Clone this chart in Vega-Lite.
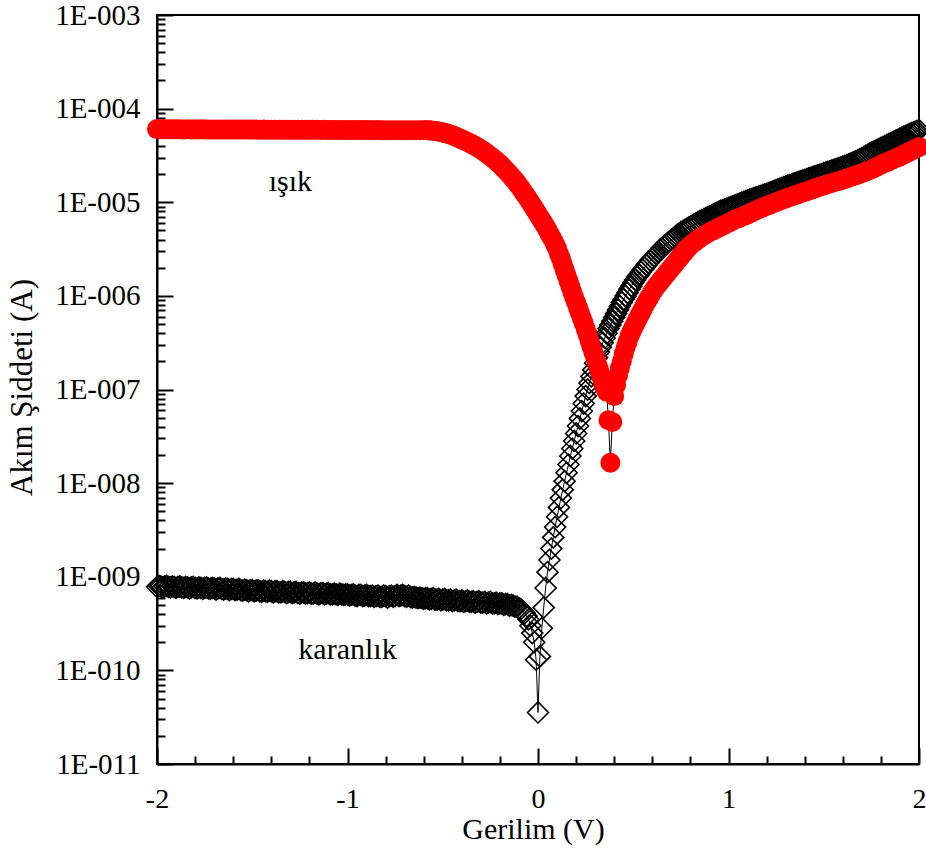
{
  "$schema": "https://vega.github.io/schema/vega-lite/v6.json",
  "width": 762,
  "height": 749,
  "autosize": {"type": "none"},
  "padding": {"left": 157, "top": 15, "right": 7, "bottom": 85},
  "background": "white",
  "config": {
    "font": "Liberation Serif",
    "view": {"stroke": "black", "strokeWidth": 2}
  },
  "datasets": {
    "dark": [
      {"V":-2.00,"I":7.8e-10},{"V":-1.99,"I":8.0e-10},{"V":-1.98,"I":7.9e-10},{"V":-1.97,"I":7.7e-10},{"V":-1.96,"I":7.9e-10},{"V":-1.95,"I":8.0e-10},{"V":-1.94,"I":7.8e-10},{"V":-1.93,"I":7.7e-10},{"V":-1.92,"I":7.9e-10},{"V":-1.91,"I":7.8e-10},
      {"V":-1.90,"I":7.6e-10},{"V":-1.89,"I":7.8e-10},{"V":-1.88,"I":7.9e-10},{"V":-1.87,"I":7.7e-10},{"V":-1.86,"I":7.6e-10},{"V":-1.85,"I":7.8e-10},{"V":-1.84,"I":7.7e-10},{"V":-1.83,"I":7.5e-10},{"V":-1.82,"I":7.7e-10},{"V":-1.81,"I":7.8e-10},
      {"V":-1.80,"I":7.6e-10},{"V":-1.79,"I":7.5e-10},{"V":-1.78,"I":7.7e-10},{"V":-1.77,"I":7.6e-10},{"V":-1.76,"I":7.4e-10},{"V":-1.75,"I":7.6e-10},{"V":-1.74,"I":7.7e-10},{"V":-1.73,"I":7.5e-10},{"V":-1.72,"I":7.4e-10},{"V":-1.71,"I":7.6e-10},
      {"V":-1.70,"I":7.5e-10},{"V":-1.69,"I":7.3e-10},{"V":-1.68,"I":7.5e-10},{"V":-1.67,"I":7.6e-10},{"V":-1.66,"I":7.4e-10},{"V":-1.65,"I":7.3e-10},{"V":-1.64,"I":7.5e-10},{"V":-1.63,"I":7.4e-10},{"V":-1.62,"I":7.2e-10},{"V":-1.61,"I":7.4e-10},
      {"V":-1.60,"I":7.4e-10},{"V":-1.59,"I":7.2e-10},{"V":-1.58,"I":7.3e-10},{"V":-1.57,"I":7.4e-10},{"V":-1.56,"I":7.2e-10},{"V":-1.55,"I":7.1e-10},{"V":-1.54,"I":7.3e-10},{"V":-1.53,"I":7.2e-10},{"V":-1.52,"I":7.0e-10},{"V":-1.51,"I":7.2e-10},
      {"V":-1.50,"I":7.2e-10},{"V":-1.49,"I":7.0e-10},{"V":-1.48,"I":7.1e-10},{"V":-1.47,"I":7.2e-10},{"V":-1.46,"I":7.0e-10},{"V":-1.45,"I":6.9e-10},{"V":-1.44,"I":7.1e-10},{"V":-1.43,"I":7.0e-10},{"V":-1.42,"I":6.9e-10},{"V":-1.41,"I":7.1e-10},
      {"V":-1.40,"I":7.0e-10},{"V":-1.39,"I":6.8e-10},{"V":-1.38,"I":7.0e-10},{"V":-1.37,"I":7.0e-10},{"V":-1.36,"I":6.8e-10},{"V":-1.35,"I":6.8e-10},{"V":-1.34,"I":7.0e-10},{"V":-1.33,"I":6.9e-10},{"V":-1.32,"I":6.7e-10},{"V":-1.31,"I":6.9e-10},
      {"V":-1.30,"I":6.9e-10},{"V":-1.29,"I":6.7e-10},{"V":-1.28,"I":6.8e-10},{"V":-1.27,"I":6.9e-10},{"V":-1.26,"I":6.7e-10},{"V":-1.25,"I":6.6e-10},{"V":-1.24,"I":6.8e-10},{"V":-1.23,"I":6.8e-10},{"V":-1.22,"I":6.6e-10},{"V":-1.21,"I":6.7e-10},
      {"V":-1.20,"I":6.8e-10},{"V":-1.19,"I":6.6e-10},{"V":-1.18,"I":6.6e-10},{"V":-1.17,"I":6.8e-10},{"V":-1.16,"I":6.6e-10},{"V":-1.15,"I":6.5e-10},{"V":-1.14,"I":6.7e-10},{"V":-1.13,"I":6.7e-10},{"V":-1.12,"I":6.5e-10},{"V":-1.11,"I":6.6e-10},
      {"V":-1.10,"I":6.7e-10},{"V":-1.09,"I":6.5e-10},{"V":-1.08,"I":6.5e-10},{"V":-1.07,"I":6.6e-10},{"V":-1.06,"I":6.5e-10},{"V":-1.05,"I":6.4e-10},{"V":-1.04,"I":6.6e-10},{"V":-1.03,"I":6.5e-10},{"V":-1.02,"I":6.4e-10},{"V":-1.01,"I":6.5e-10},
      {"V":-1.00,"I":6.5e-10},{"V":-0.99,"I":6.3e-10},{"V":-0.98,"I":6.4e-10},{"V":-0.97,"I":6.5e-10},{"V":-0.96,"I":6.3e-10},{"V":-0.95,"I":6.2e-10},{"V":-0.94,"I":6.4e-10},{"V":-0.93,"I":6.4e-10},{"V":-0.92,"I":6.2e-10},{"V":-0.91,"I":6.3e-10},
      {"V":-0.90,"I":6.4e-10},{"V":-0.89,"I":6.2e-10},{"V":-0.88,"I":6.2e-10},{"V":-0.87,"I":6.3e-10},{"V":-0.86,"I":6.1e-10},{"V":-0.85,"I":6.2e-10},{"V":-0.84,"I":6.3e-10},{"V":-0.83,"I":6.1e-10},{"V":-0.82,"I":6.1e-10},{"V":-0.81,"I":6.3e-10},
      {"V":-0.80,"I":6.2e-10},{"V":-0.79,"I":6.0e-10},{"V":-0.78,"I":6.2e-10},{"V":-0.77,"I":6.3e-10},{"V":-0.76,"I":6.1e-10},{"V":-0.75,"I":6.2e-10},{"V":-0.74,"I":6.4e-10},{"V":-0.73,"I":6.2e-10},{"V":-0.72,"I":6.3e-10},{"V":-0.71,"I":6.4e-10},
      {"V":-0.70,"I":6.2e-10},{"V":-0.69,"I":6.1e-10},{"V":-0.68,"I":6.3e-10},{"V":-0.67,"I":6.1e-10},{"V":-0.66,"I":6.0e-10},{"V":-0.65,"I":6.1e-10},{"V":-0.64,"I":6.0e-10},{"V":-0.63,"I":5.9e-10},{"V":-0.62,"I":6.0e-10},{"V":-0.61,"I":5.9e-10},
      {"V":-0.60,"I":5.8e-10},{"V":-0.59,"I":5.9e-10},{"V":-0.58,"I":5.9e-10},{"V":-0.57,"I":5.7e-10},{"V":-0.56,"I":5.8e-10},{"V":-0.55,"I":5.9e-10},{"V":-0.54,"I":5.7e-10},{"V":-0.53,"I":5.7e-10},{"V":-0.52,"I":5.8e-10},{"V":-0.51,"I":5.6e-10},
      {"V":-0.50,"I":5.7e-10},{"V":-0.49,"I":5.8e-10},{"V":-0.48,"I":5.6e-10},{"V":-0.47,"I":5.6e-10},{"V":-0.46,"I":5.7e-10},{"V":-0.45,"I":5.5e-10},{"V":-0.44,"I":5.6e-10},{"V":-0.43,"I":5.7e-10},{"V":-0.42,"I":5.5e-10},{"V":-0.41,"I":5.5e-10},
      {"V":-0.40,"I":5.6e-10},{"V":-0.39,"I":5.4e-10},{"V":-0.38,"I":5.5e-10},{"V":-0.37,"I":5.6e-10},{"V":-0.36,"I":5.4e-10},{"V":-0.35,"I":5.4e-10},{"V":-0.34,"I":5.5e-10},{"V":-0.33,"I":5.3e-10},{"V":-0.32,"I":5.4e-10},{"V":-0.31,"I":5.5e-10},
      {"V":-0.30,"I":5.3e-10},{"V":-0.29,"I":5.3e-10},{"V":-0.28,"I":5.4e-10},{"V":-0.27,"I":5.2e-10},{"V":-0.26,"I":5.3e-10},{"V":-0.25,"I":5.4e-10},{"V":-0.24,"I":5.2e-10},{"V":-0.23,"I":5.2e-10},{"V":-0.22,"I":5.3e-10},{"V":-0.21,"I":5.1e-10},
      {"V":-0.20,"I":5.2e-10},{"V":-0.19,"I":5.2e-10},{"V":-0.18,"I":5.0e-10},{"V":-0.17,"I":5.1e-10},{"V":-0.16,"I":5.1e-10},{"V":-0.15,"I":4.9e-10},{"V":-0.14,"I":5.0e-10},{"V":-0.13,"I":4.9e-10},{"V":-0.12,"I":4.8e-10},{"V":-0.11,"I":4.8e-10},
      {"V":-0.10,"I":4.6e-10},{"V":-0.09,"I":4.5e-10},{"V":-0.08,"I":4.3e-10},{"V":-0.07,"I":4.1e-10},{"V":-0.06,"I":3.8e-10},{"V":-0.05,"I":3.5e-10},{"V":-0.04,"I":3.0e-10},{"V":-0.03,"I":2.5e-10},{"V":-0.02,"I":2.0e-10},{"V":-0.01,"I":1.3e-10},
      {"V":0.00,"I":3.55e-11},
      {"V":0.01,"I":1.41e-10},{"V":0.02,"I":2.82e-10},{"V":0.03,"I":4.68e-10},{"V":0.04,"I":7.59e-10},{"V":0.05,"I":1.12e-9},{"V":0.06,"I":1.51e-9},{"V":0.07,"I":2.0e-9},{"V":0.08,"I":2.63e-9},{"V":0.09,"I":3.39e-9},{"V":0.10,"I":4.37e-9},
      {"V":0.11,"I":5.5e-9},{"V":0.12,"I":6.92e-9},{"V":0.13,"I":8.51e-9},{"V":0.14,"I":1.05e-8},{"V":0.15,"I":1.29e-8},{"V":0.16,"I":1.58e-8},{"V":0.17,"I":1.95e-8},{"V":0.18,"I":2.34e-8},{"V":0.19,"I":2.82e-8},{"V":0.20,"I":3.39e-8},
      {"V":0.21,"I":4.07e-8},{"V":0.22,"I":4.9e-8},{"V":0.23,"I":5.89e-8},{"V":0.24,"I":7.08e-8},{"V":0.25,"I":8.51e-8},{"V":0.26,"I":1.0e-7},{"V":0.27,"I":1.17e-7},{"V":0.28,"I":1.38e-7},{"V":0.29,"I":1.62e-7},{"V":0.30,"I":1.91e-7},
      {"V":0.31,"I":2.19e-7},{"V":0.32,"I":2.51e-7},{"V":0.33,"I":2.82e-7},{"V":0.34,"I":3.16e-7},{"V":0.35,"I":3.55e-7},{"V":0.36,"I":3.98e-7},{"V":0.37,"I":4.47e-7},{"V":0.38,"I":4.9e-7},{"V":0.39,"I":5.37e-7},{"V":0.40,"I":5.89e-7},
      {"V":0.41,"I":6.46e-7},{"V":0.42,"I":7.08e-7},{"V":0.43,"I":7.76e-7},{"V":0.44,"I":8.51e-7},{"V":0.45,"I":9.23e-7},{"V":0.46,"I":1.0e-6},{"V":0.47,"I":1.08e-6},{"V":0.48,"I":1.18e-6},{"V":0.49,"I":1.27e-6},{"V":0.50,"I":1.38e-6},
      {"V":0.51,"I":1.48e-6},{"V":0.52,"I":1.59e-6},{"V":0.53,"I":1.68e-6},{"V":0.54,"I":1.80e-6},{"V":0.55,"I":1.91e-6},{"V":0.56,"I":2.02e-6},{"V":0.57,"I":2.14e-6},{"V":0.58,"I":2.27e-6},{"V":0.59,"I":2.40e-6},{"V":0.60,"I":2.51e-6},
      {"V":0.61,"I":2.63e-6},{"V":0.62,"I":2.79e-6},{"V":0.63,"I":2.92e-6},{"V":0.64,"I":3.09e-6},{"V":0.65,"I":3.24e-6},{"V":0.66,"I":3.39e-6},{"V":0.67,"I":3.51e-6},{"V":0.68,"I":3.67e-6},{"V":0.69,"I":3.80e-6},{"V":0.70,"I":3.98e-6},
      {"V":0.71,"I":4.12e-6},{"V":0.72,"I":4.27e-6},{"V":0.73,"I":4.47e-6},{"V":0.74,"I":4.62e-6},{"V":0.75,"I":4.79e-6},{"V":0.76,"I":4.90e-6},{"V":0.77,"I":5.07e-6},{"V":0.78,"I":5.19e-6},{"V":0.79,"I":5.37e-6},{"V":0.80,"I":5.50e-6},
      {"V":0.81,"I":5.62e-6},{"V":0.82,"I":5.82e-6},{"V":0.83,"I":5.96e-6},{"V":0.84,"I":6.17e-6},{"V":0.85,"I":6.31e-6},{"V":0.86,"I":6.46e-6},{"V":0.87,"I":6.61e-6},{"V":0.88,"I":6.76e-6},{"V":0.89,"I":6.92e-6},{"V":0.90,"I":7.08e-6},
      {"V":0.91,"I":7.24e-6},{"V":0.92,"I":7.41e-6},{"V":0.93,"I":7.59e-6},{"V":0.94,"I":7.76e-6},{"V":0.95,"I":7.94e-6},{"V":0.96,"I":8.13e-6},{"V":0.97,"I":8.22e-6},{"V":0.98,"I":8.41e-6},{"V":0.99,"I":8.51e-6},{"V":1.00,"I":8.71e-6},
      {"V":1.01,"I":8.87e-6},{"V":1.02,"I":9.04e-6},{"V":1.03,"I":9.20e-6},{"V":1.04,"I":9.38e-6},{"V":1.05,"I":9.55e-6},{"V":1.06,"I":9.73e-6},{"V":1.07,"I":9.91e-6},{"V":1.08,"I":1.009e-5},{"V":1.09,"I":1.028e-5},{"V":1.10,"I":1.047e-5},
      {"V":1.11,"I":1.064e-5},{"V":1.12,"I":1.081e-5},{"V":1.13,"I":1.099e-5},{"V":1.14,"I":1.117e-5},{"V":1.15,"I":1.135e-5},{"V":1.16,"I":1.153e-5},{"V":1.17,"I":1.172e-5},{"V":1.18,"I":1.191e-5},{"V":1.19,"I":1.211e-5},{"V":1.20,"I":1.23e-5},
      {"V":1.21,"I":1.253e-5},{"V":1.22,"I":1.276e-5},{"V":1.23,"I":1.30e-5},{"V":1.24,"I":1.324e-5},{"V":1.25,"I":1.349e-5},{"V":1.26,"I":1.374e-5},{"V":1.27,"I":1.40e-5},{"V":1.28,"I":1.426e-5},{"V":1.29,"I":1.452e-5},{"V":1.30,"I":1.479e-5},
      {"V":1.31,"I":1.503e-5},{"V":1.32,"I":1.528e-5},{"V":1.33,"I":1.552e-5},{"V":1.34,"I":1.578e-5},{"V":1.35,"I":1.603e-5},{"V":1.36,"I":1.629e-5},{"V":1.37,"I":1.656e-5},{"V":1.38,"I":1.683e-5},{"V":1.39,"I":1.71e-5},{"V":1.40,"I":1.738e-5},
      {"V":1.41,"I":1.766e-5},{"V":1.42,"I":1.795e-5},{"V":1.43,"I":1.824e-5},{"V":1.44,"I":1.854e-5},{"V":1.45,"I":1.884e-5},{"V":1.46,"I":1.914e-5},{"V":1.47,"I":1.945e-5},{"V":1.48,"I":1.977e-5},{"V":1.49,"I":2.009e-5},{"V":1.50,"I":2.042e-5},
      {"V":1.51,"I":2.075e-5},{"V":1.52,"I":2.109e-5},{"V":1.53,"I":2.143e-5},{"V":1.54,"I":2.178e-5},{"V":1.55,"I":2.213e-5},{"V":1.56,"I":2.249e-5},{"V":1.57,"I":2.286e-5},{"V":1.58,"I":2.323e-5},{"V":1.59,"I":2.36e-5},{"V":1.60,"I":2.399e-5},
      {"V":1.61,"I":2.443e-5},{"V":1.62,"I":2.489e-5},{"V":1.63,"I":2.535e-5},{"V":1.64,"I":2.582e-5},{"V":1.65,"I":2.63e-5},{"V":1.66,"I":2.692e-5},{"V":1.67,"I":2.754e-5},{"V":1.68,"I":2.818e-5},{"V":1.69,"I":2.884e-5},{"V":1.70,"I":2.951e-5},
      {"V":1.71,"I":3.034e-5},{"V":1.72,"I":3.119e-5},{"V":1.73,"I":3.206e-5},{"V":1.74,"I":3.296e-5},{"V":1.75,"I":3.388e-5},{"V":1.76,"I":3.467e-5},{"V":1.77,"I":3.548e-5},{"V":1.78,"I":3.631e-5},{"V":1.79,"I":3.715e-5},{"V":1.80,"I":3.802e-5},
      {"V":1.81,"I":3.89e-5},{"V":1.82,"I":3.981e-5},{"V":1.83,"I":4.074e-5},{"V":1.84,"I":4.169e-5},{"V":1.85,"I":4.266e-5},{"V":1.86,"I":4.365e-5},{"V":1.87,"I":4.467e-5},{"V":1.88,"I":4.571e-5},{"V":1.89,"I":4.677e-5},{"V":1.90,"I":4.786e-5},
      {"V":1.91,"I":4.898e-5},{"V":1.92,"I":5.012e-5},{"V":1.93,"I":5.129e-5},{"V":1.94,"I":5.248e-5},{"V":1.95,"I":5.37e-5},{"V":1.96,"I":5.47e-5},{"V":1.97,"I":5.572e-5},{"V":1.98,"I":5.675e-5},{"V":1.99,"I":5.781e-5},{"V":2.00,"I":5.888e-5}
    ],
    "light": [
      {"V":-2.00,"I":6.05e-5},{"V":-1.98,"I":6.02e-5},{"V":-1.96,"I":6.03e-5},{"V":-1.94,"I":6.01e-5},{"V":-1.92,"I":6.03e-5},{"V":-1.90,"I":6.01e-5},{"V":-1.88,"I":6.02e-5},{"V":-1.86,"I":6.0e-5},{"V":-1.84,"I":6.02e-5},{"V":-1.82,"I":6.0e-5},
      {"V":-1.80,"I":6.01e-5},{"V":-1.78,"I":6.0e-5},{"V":-1.76,"I":6.01e-5},{"V":-1.74,"I":5.99e-5},{"V":-1.72,"I":6.0e-5},{"V":-1.70,"I":5.99e-5},{"V":-1.68,"I":6.0e-5},{"V":-1.66,"I":5.99e-5},{"V":-1.64,"I":5.99e-5},{"V":-1.62,"I":5.98e-5},
      {"V":-1.60,"I":5.99e-5},{"V":-1.58,"I":5.98e-5},{"V":-1.56,"I":5.98e-5},{"V":-1.54,"I":5.97e-5},{"V":-1.52,"I":5.98e-5},{"V":-1.50,"I":5.97e-5},{"V":-1.48,"I":5.97e-5},{"V":-1.46,"I":5.96e-5},{"V":-1.44,"I":5.97e-5},{"V":-1.42,"I":5.96e-5},
      {"V":-1.40,"I":5.96e-5},{"V":-1.38,"I":5.95e-5},{"V":-1.36,"I":5.96e-5},{"V":-1.34,"I":5.95e-5},{"V":-1.32,"I":5.95e-5},{"V":-1.30,"I":5.94e-5},{"V":-1.28,"I":5.95e-5},{"V":-1.26,"I":5.94e-5},{"V":-1.24,"I":5.94e-5},{"V":-1.22,"I":5.93e-5},
      {"V":-1.20,"I":5.94e-5},{"V":-1.18,"I":5.93e-5},{"V":-1.16,"I":5.93e-5},{"V":-1.14,"I":5.92e-5},{"V":-1.12,"I":5.93e-5},{"V":-1.10,"I":5.92e-5},{"V":-1.08,"I":5.92e-5},{"V":-1.06,"I":5.91e-5},{"V":-1.04,"I":5.92e-5},{"V":-1.02,"I":5.91e-5},
      {"V":-1.00,"I":5.91e-5},{"V":-0.98,"I":5.9e-5},{"V":-0.96,"I":5.91e-5},{"V":-0.94,"I":5.9e-5},{"V":-0.92,"I":5.9e-5},{"V":-0.90,"I":5.9e-5},{"V":-0.88,"I":5.9e-5},{"V":-0.86,"I":5.89e-5},{"V":-0.84,"I":5.9e-5},{"V":-0.82,"I":5.89e-5},
      {"V":-0.80,"I":5.89e-5},{"V":-0.78,"I":5.89e-5},{"V":-0.76,"I":5.89e-5},{"V":-0.74,"I":5.88e-5},{"V":-0.72,"I":5.89e-5},{"V":-0.70,"I":5.88e-5},{"V":-0.68,"I":5.88e-5},{"V":-0.66,"I":5.88e-5},{"V":-0.64,"I":5.88e-5},{"V":-0.62,"I":5.89e-5},
      {"V":-0.60,"I":5.89e-5},{"V":-0.59,"I":5.88e-5},{"V":-0.58,"I":5.87e-5},{"V":-0.57,"I":5.86e-5},{"V":-0.56,"I":5.85e-5},{"V":-0.55,"I":5.81e-5},{"V":-0.54,"I":5.78e-5},{"V":-0.53,"I":5.74e-5},{"V":-0.52,"I":5.70e-5},{"V":-0.51,"I":5.64e-5},
      {"V":-0.50,"I":5.57e-5},{"V":-0.49,"I":5.51e-5},{"V":-0.48,"I":5.45e-5},{"V":-0.47,"I":5.36e-5},{"V":-0.46,"I":5.27e-5},{"V":-0.45,"I":5.19e-5},{"V":-0.44,"I":5.10e-5},{"V":-0.43,"I":5.00e-5},{"V":-0.42,"I":4.90e-5},{"V":-0.41,"I":4.80e-5},
      {"V":-0.40,"I":4.70e-5},{"V":-0.39,"I":4.59e-5},{"V":-0.38,"I":4.50e-5},{"V":-0.37,"I":4.40e-5},{"V":-0.36,"I":4.30e-5},{"V":-0.35,"I":4.20e-5},{"V":-0.34,"I":4.09e-5},{"V":-0.33,"I":4.00e-5},{"V":-0.32,"I":3.90e-5},{"V":-0.31,"I":3.78e-5},
      {"V":-0.30,"I":3.67e-5},{"V":-0.29,"I":3.56e-5},{"V":-0.28,"I":3.45e-5},{"V":-0.27,"I":3.33e-5},{"V":-0.26,"I":3.22e-5},{"V":-0.25,"I":3.10e-5},{"V":-0.24,"I":3.00e-5},{"V":-0.23,"I":2.88e-5},{"V":-0.22,"I":2.77e-5},{"V":-0.21,"I":2.65e-5},
      {"V":-0.20,"I":2.55e-5},{"V":-0.19,"I":2.43e-5},{"V":-0.18,"I":2.31e-5},{"V":-0.17,"I":2.20e-5},{"V":-0.16,"I":2.10e-5},{"V":-0.15,"I":1.99e-5},{"V":-0.14,"I":1.89e-5},{"V":-0.13,"I":1.79e-5},{"V":-0.12,"I":1.70e-5},{"V":-0.11,"I":1.60e-5},
      {"V":-0.10,"I":1.50e-5},{"V":-0.09,"I":1.41e-5},{"V":-0.08,"I":1.32e-5},{"V":-0.07,"I":1.23e-5},{"V":-0.06,"I":1.15e-5},{"V":-0.05,"I":1.07e-5},{"V":-0.04,"I":1.00e-5},{"V":-0.03,"I":9.27e-6},{"V":-0.02,"I":8.59e-6},{"V":-0.01,"I":7.98e-6},
      {"V":0.00,"I":7.40e-6},{"V":0.01,"I":6.87e-6},{"V":0.02,"I":6.37e-6},{"V":0.03,"I":5.92e-6},{"V":0.04,"I":5.50e-6},{"V":0.05,"I":5.05e-6},{"V":0.06,"I":4.62e-6},{"V":0.07,"I":4.25e-6},{"V":0.08,"I":3.90e-6},{"V":0.09,"I":3.53e-6},
      {"V":0.10,"I":3.20e-6},{"V":0.11,"I":2.82e-6},{"V":0.12,"I":2.50e-6},{"V":0.13,"I":2.18e-6},{"V":0.14,"I":1.90e-6},{"V":0.15,"I":1.66e-6},{"V":0.16,"I":1.45e-6},{"V":0.17,"I":1.26e-6},{"V":0.18,"I":1.10e-6},{"V":0.19,"I":9.66e-7},
      {"V":0.20,"I":8.49e-7},{"V":0.21,"I":7.48e-7},{"V":0.22,"I":6.61e-7},{"V":0.23,"I":5.81e-7},{"V":0.24,"I":5.11e-7},{"V":0.25,"I":4.46e-7},{"V":0.26,"I":3.90e-7},{"V":0.27,"I":3.36e-7},{"V":0.28,"I":2.90e-7},{"V":0.29,"I":2.52e-7},
      {"V":0.30,"I":2.20e-7},{"V":0.31,"I":1.90e-7},{"V":0.32,"I":1.65e-7},{"V":0.33,"I":1.41e-7},{"V":0.34,"I":1.20e-7},{"V":0.35,"I":1.05e-7},{"V":0.36,"I":9.5e-8},{"V":0.37,"I":4.7e-8},{"V":0.38,"I":1.65e-8},{"V":0.39,"I":4.5e-8},
      {"V":0.40,"I":8.5e-8},{"V":0.41,"I":1.12e-7},{"V":0.42,"I":1.41e-7},{"V":0.43,"I":1.7e-7},{"V":0.44,"I":2.0e-7},{"V":0.45,"I":2.4e-7},{"V":0.46,"I":2.82e-7},{"V":0.47,"I":3.24e-7},{"V":0.48,"I":3.72e-7},{"V":0.49,"I":4.12e-7},
      {"V":0.50,"I":4.57e-7},{"V":0.51,"I":5.01e-7},{"V":0.52,"I":5.5e-7},{"V":0.53,"I":6.03e-7},{"V":0.54,"I":6.61e-7},{"V":0.55,"I":7.24e-7},{"V":0.56,"I":7.94e-7},{"V":0.57,"I":8.61e-7},{"V":0.58,"I":9.33e-7},{"V":0.59,"I":1.01e-6},
      {"V":0.60,"I":1.1e-6},{"V":0.61,"I":1.175e-6},{"V":0.62,"I":1.26e-6},{"V":0.63,"I":1.33e-6},{"V":0.64,"I":1.41e-6},{"V":0.65,"I":1.50e-6},{"V":0.66,"I":1.58e-6},{"V":0.67,"I":1.68e-6},{"V":0.68,"I":1.78e-6},{"V":0.69,"I":1.88e-6},
      {"V":0.70,"I":2.0e-6},{"V":0.71,"I":2.11e-6},{"V":0.72,"I":2.24e-6},{"V":0.73,"I":2.37e-6},{"V":0.74,"I":2.51e-6},{"V":0.75,"I":2.66e-6},{"V":0.76,"I":2.82e-6},{"V":0.77,"I":2.99e-6},{"V":0.78,"I":3.16e-6},{"V":0.79,"I":3.31e-6},
      {"V":0.80,"I":3.47e-6},{"V":0.82,"I":3.73e-6},{"V":0.84,"I":4.02e-6},{"V":0.86,"I":4.29e-6},{"V":0.88,"I":4.53e-6},{"V":0.90,"I":4.79e-6},{"V":0.92,"I":5.01e-6},{"V":0.94,"I":5.25e-6},{"V":0.96,"I":5.5e-6},{"V":0.98,"I":5.75e-6},
      {"V":1.00,"I":6.03e-6},{"V":1.02,"I":6.31e-6},{"V":1.04,"I":6.61e-6},{"V":1.06,"I":6.85e-6},{"V":1.08,"I":7.11e-6},{"V":1.10,"I":7.41e-6},{"V":1.12,"I":7.76e-6},{"V":1.14,"I":8.13e-6},{"V":1.16,"I":8.47e-6},{"V":1.18,"I":8.79e-6},
      {"V":1.20,"I":9.12e-6},{"V":1.22,"I":9.46e-6},{"V":1.24,"I":9.82e-6},{"V":1.26,"I":1.019e-5},{"V":1.28,"I":1.057e-5},{"V":1.30,"I":1.096e-5},{"V":1.32,"I":1.132e-5},{"V":1.34,"I":1.17e-5},{"V":1.36,"I":1.208e-5},{"V":1.38,"I":1.247e-5},
      {"V":1.40,"I":1.288e-5},{"V":1.42,"I":1.33e-5},{"V":1.44,"I":1.374e-5},{"V":1.46,"I":1.419e-5},{"V":1.48,"I":1.466e-5},{"V":1.50,"I":1.514e-5},{"V":1.52,"I":1.556e-5},{"V":1.54,"I":1.6e-5},{"V":1.56,"I":1.644e-5},{"V":1.58,"I":1.69e-5},
      {"V":1.60,"I":1.738e-5},{"V":1.62,"I":1.795e-5},{"V":1.64,"I":1.854e-5},{"V":1.66,"I":1.914e-5},{"V":1.68,"I":1.977e-5},{"V":1.70,"I":2.042e-5},{"V":1.72,"I":2.118e-5},{"V":1.74,"I":2.198e-5},{"V":1.76,"I":2.291e-5},{"V":1.78,"I":2.399e-5},
      {"V":1.80,"I":2.512e-5},{"V":1.82,"I":2.618e-5},{"V":1.84,"I":2.729e-5},{"V":1.86,"I":2.844e-5},{"V":1.88,"I":2.965e-5},{"V":1.90,"I":3.09e-5},{"V":1.92,"I":3.236e-5},{"V":1.94,"I":3.388e-5},{"V":1.96,"I":3.548e-5},{"V":1.98,"I":3.715e-5},
      {"V":2.00,"I":3.89e-5}
    ],
    "labels": [
      {"V": -1.3, "I": 1.64e-5, "label": "ışık"},
      {"V": -1.0, "I": 1.66e-10, "label": "karanlık"}
    ]
  },
  "encoding": {
    "x": {
      "field": "V",
      "type": "quantitative",
      "scale": {"domain": [-2, 2], "nice": false, "zero": false},
      "axis": {
        "title": "Gerilim (V)",
        "values": [-2, -1.8, -1.6, -1.4, -1.2, -1, -0.8, -0.6, -0.4, -0.2, 0, 0.2, 0.4, 0.6, 0.8, 1, 1.2, 1.4, 1.6, 1.8, 2],
        "labelExpr": "abs(datum.value - round(datum.value)) < 0.001 ? '' + round(datum.value) : ''",
        "tickSize": {"condition": {"test": "abs(datum.value - round(datum.value)) < 0.001", "value": -16}, "value": -8},
        "labelPadding": 37,
        "labelFlush": false,
        "labelOverlap": false,
        "labelBound": false,
        "grid": false,
        "domainColor": "black",
        "domainWidth": 2,
        "tickColor": "black",
        "tickWidth": 2,
        "labelFontSize": 28,
        "labelColor": "black",
        "labelFont": "Liberation Serif",
        "titleFont": "Liberation Serif",
        "titleFontSize": 30,
        "titleFontWeight": "normal",
        "titleColor": "black",
        "titleBaseline": "alphabetic",
        "titleX": 376,
        "titleY": 74
      }
    },
    "y": {
      "field": "I",
      "type": "quantitative",
      "scale": {"type": "log", "domain": [1e-11, 1e-3], "nice": false},
      "axis": {
        "title": "Akım Şiddeti (A)",
        "values": [1e-11, 2e-11, 3e-11, 4e-11, 5e-11, 6e-11, 7e-11, 8e-11, 9e-11,
                   1e-10, 2e-10, 3e-10, 4e-10, 5e-10, 6e-10, 7e-10, 8e-10, 9e-10,
                   1e-9, 2e-9, 3e-9, 4e-9, 5e-9, 6e-9, 7e-9, 8e-9, 9e-9,
                   1e-8, 2e-8, 3e-8, 4e-8, 5e-8, 6e-8, 7e-8, 8e-8, 9e-8,
                   1e-7, 2e-7, 3e-7, 4e-7, 5e-7, 6e-7, 7e-7, 8e-7, 9e-7,
                   1e-6, 2e-6, 3e-6, 4e-6, 5e-6, 6e-6, 7e-6, 8e-6, 9e-6,
                   1e-5, 2e-5, 3e-5, 4e-5, 5e-5, 6e-5, 7e-5, 8e-5, 9e-5,
                   1e-4, 2e-4, 3e-4, 4e-4, 5e-4, 6e-4, 7e-4, 8e-4, 9e-4, 1e-3],
        "labelExpr": "abs(log(datum.value)/LN10 - round(log(datum.value)/LN10)) < 0.001 ? '1E-' + (round(-log(datum.value)/LN10) < 10 ? '00' : '0') + round(-log(datum.value)/LN10) : ''",
        "tickSize": {"condition": {"test": "abs(log(datum.value)/LN10 - round(log(datum.value)/LN10)) < 0.001", "value": -16}, "value": -8},
        "labelPadding": 33,
        "labelFlush": false,
        "labelOverlap": false,
        "labelBound": false,
        "grid": false,
        "domainColor": "black",
        "domainWidth": 2,
        "tickColor": "black",
        "tickWidth": 2,
        "labelFontSize": 29,
        "labelColor": "black",
        "labelFont": "Liberation Serif",
        "titleFont": "Liberation Serif",
        "titleFontSize": 31,
        "titleFontWeight": "normal",
        "titleColor": "black",
        "titleX": -119,
        "titleY": 372
      }
    }
  },
  "layer": [
    {
      "data": {"name": "dark"},
      "mark": {"type": "line", "color": "black", "strokeWidth": 1, "clip": false},
      "encoding": {}
    },
    {
      "data": {"name": "dark"},
      "mark": {"type": "point", "shape": "diamond", "filled": false, "stroke": "black", "strokeWidth": 1.6, "size": 441, "opacity": 1, "clip": false},
      "encoding": {}
    },
    {
      "data": {"name": "light"},
      "mark": {"type": "line", "color": "black", "strokeWidth": 1, "clip": false},
      "encoding": {}
    },
    {
      "data": {"name": "light"},
      "mark": {"type": "point", "shape": "circle", "filled": true, "fill": "#FF0000", "strokeWidth": 0, "size": 400, "opacity": 1, "clip": false},
      "encoding": {}
    },
    {
      "data": {"name": "labels"},
      "mark": {"type": "text", "font": "Liberation Serif", "fontSize": 30, "color": "black", "align": "center", "baseline": "middle"},
      "encoding": {"text": {"field": "label", "type": "nominal"}}
    }
  ]
}
